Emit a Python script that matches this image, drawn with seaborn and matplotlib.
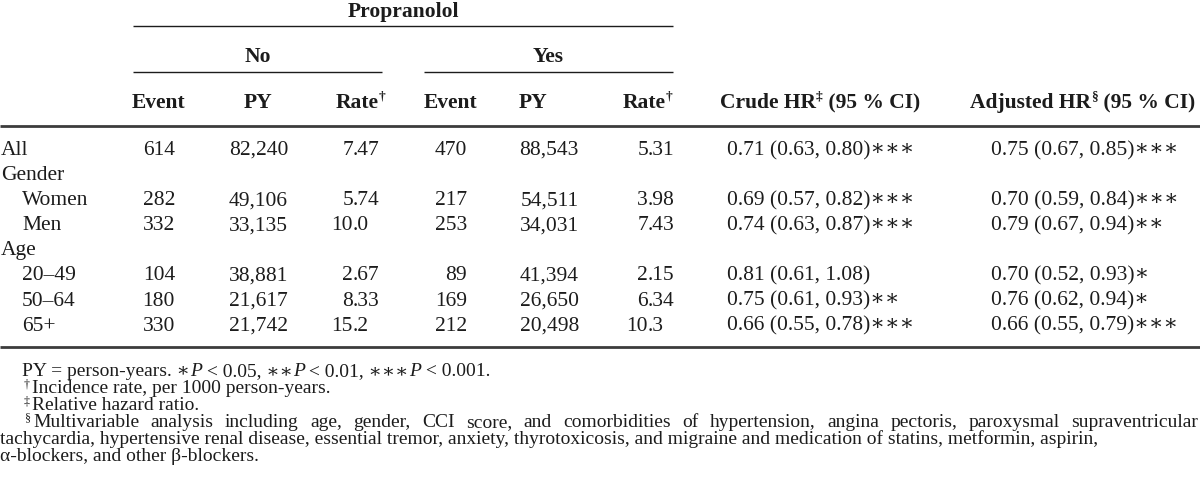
import matplotlib
matplotlib.use("Agg")
import matplotlib.pyplot as plt
import seaborn as sns

sns.set_theme(style="white")
plt.rcParams['font.family'] = ['Liberation Serif', 'DejaVu Serif']

# ---------------- data ----------------
row_labels = ["All", "Gender", "Women", "Men", "Age", "20–49", "50–64", "65+"]
row_indent = [0, 0, 1, 1, 0, 1, 1, 1]
no_event = [614, None, 282, 332, None, 104, 180, 330]
no_py = [82240, None, 49106, 33135, None, 38881, 21617, 21742]
no_rate = [7.47, None, 5.74, 10.0, None, 2.67, 8.33, 15.2]
yes_event = [470, None, 217, 253, None, 89, 169, 212]
yes_py = [88543, None, 54511, 34031, None, 41394, 26650, 20498]
yes_rate = [5.31, None, 3.98, 7.43, None, 2.15, 6.34, 10.3]
crude_hr = [0.71, None, 0.69, 0.74, None, 0.81, 0.75, 0.66]
crude_lo = [0.63, None, 0.57, 0.63, None, 0.61, 0.61, 0.55]
crude_hi = [0.80, None, 0.82, 0.87, None, 1.08, 0.93, 0.78]
crude_sig = [3, 0, 3, 3, 0, 0, 2, 3]
adj_hr = [0.75, None, 0.70, 0.79, None, 0.70, 0.76, 0.66]
adj_lo = [0.67, None, 0.59, 0.67, None, 0.52, 0.62, 0.55]
adj_hi = [0.85, None, 0.84, 0.94, None, 0.93, 0.94, 0.79]
adj_sig = [3, 0, 3, 2, 0, 1, 1, 3]

group_title = "Propranolol"
group_labels = ["No", "Yes"]
sub_cols = ["Event", "PY", "Rate"]
hr_headers = [("Crude HR", "‡"), ("Adjusted HR", "§")]

fn_py = [("PY = person-years. ∗", "n"), ("P", "i"), (" < 0.05, ∗∗", "n"), ("P", "i"),
         (" < 0.01, ∗∗∗", "n"), ("P", "i"), (" < 0.001.", "n")]
fn_rate = ("†", "Incidence rate, per 1000 person-years.")
fn_hr = ("‡", "Relative hazard ratio.")
fn_adj = ("§", "Multivariable analysis including age, gender, CCI score, and comorbidities of "
               "hypertension, angina pectoris, paroxysmal supraventricular")
fn_adj2 = "tachycardia, hypertensive renal disease, essential tremor, anxiety, thyrotoxicosis, and migraine and medication of statins, metformin, aspirin,"
fn_adj3 = "α-blockers, and other β-blockers."

# ---------------- layout ----------------
TXT = "#1c1c1c"
RULE = "#3c3c3c"
FS = 15.5
FF = 14.0

fig = plt.figure(figsize=(12, 4.92), dpi=100)
ax = fig.add_axes([0, 0, 1, 1])
ax.set_xlim(0, 1200)
ax.set_ylim(492, 0)
ax.axis("off")
sns.despine(ax=ax, left=True, bottom=True)
renderer = fig.canvas.get_renderer()


def measure(s, **kw):
    t = ax.text(0, 0, s + "|", **kw)
    w1 = t.get_window_extent(renderer).width
    t.set_text("|")
    w2 = t.get_window_extent(renderer).width
    t.remove()
    return w1 - w2


def style_kw(kind, size):
    kw = dict(fontsize=size, color=TXT)
    if "b" in kind:
        kw["fontweight"] = "bold"
    if "i" in kind:
        kw["fontstyle"] = "italic"
    return kw


def runs(x, y, parts, size, ha="left", sup_gap=0.0, sup_raise=0.40):
    items = []
    for s, kind in parts:
        sz = size * 0.62 if "s" in kind else size
        kw = style_kw(kind, sz)
        w = measure(s, **kw) + (sup_gap if "s" in kind else 0.0)
        items.append((s, kind, kw, w))
    total = sum(i[3] for i in items)
    if ha == "center":
        x -= total / 2
    elif ha == "right":
        x -= total
    for s, kind, kw, w in items:
        yy = y - size * 1.389 * sup_raise if "s" in kind else y
        ax.text(x, yy, s, ha="left", va="baseline", **kw)
        x += w


# header
runs(403, 17, [(group_title, "b")], FS, ha="center")
ax.hlines(25.5, 133, 673, color=TXT, lw=1.0)
grp_x = [(133, 382), (424, 673)]
for (x0, x1), lab in zip(grp_x, group_labels):
    runs((x0 + x1) / 2, 62, [(lab, "b")], FS, ha="center")
    ax.hlines(72, x0, x1, color=TXT, lw=1.0)

sub_pos = [[158, 258, 385], [451, 533, 672]]
for g in range(2):
    runs(sub_pos[g][0], 108, [(sub_cols[0], "b")], FS, ha="center")
    runs(sub_pos[g][1], 108, [(sub_cols[1], "b")], FS, ha="center")
    runs(sub_pos[g][2], 108, [(sub_cols[2], "b"), ("†", "bs")], FS, ha="right")
hr_centers = [820, 1083]
for cx, (h, mark) in zip(hr_centers, hr_headers):
    runs(cx, 108, [(h, "b"), (mark, "bs"), (" (95 % CI)", "b")], FS, ha="center")

ax.hlines(126, 0, 1200, color=RULE, lw=2.0)

# body
y0, dy = 155, 25.1
kw = style_kw("n", FS)


def dec_align(xd, y, v):
    s = f"{v:#.3g}"
    ip, fp = s.split(".")
    ax.text(xd, y, ip, ha="right", va="baseline", **kw)
    ax.text(xd, y, "." + fp, ha="left", va="baseline", **kw)


for i, lab in enumerate(row_labels):
    y = y0 + i * dy
    ax.text(22 if row_indent[i] else 1, y, lab, ha="left", va="baseline", **kw)
    if no_event[i] is None:
        continue
    ax.text(175, y, f"{no_event[i]}", ha="right", va="baseline", **kw)
    ax.text(288, y, f"{no_py[i]:,}", ha="right", va="baseline", **kw)
    dec_align(353, y, no_rate[i])
    ax.text(467, y, f"{yes_event[i]}", ha="right", va="baseline", **kw)
    ax.text(579, y, f"{yes_py[i]:,}", ha="right", va="baseline", **kw)
    dec_align(648, y, yes_rate[i])
    ax.text(727, y, f"{crude_hr[i]:.2f} ({crude_lo[i]:.2f}, {crude_hi[i]:.2f})" + "∗" * crude_sig[i],
            ha="left", va="baseline", **kw)
    ax.text(991, y, f"{adj_hr[i]:.2f} ({adj_lo[i]:.2f}, {adj_hi[i]:.2f})" + "∗" * adj_sig[i],
            ha="left", va="baseline", **kw)

ax.hlines(347, 0, 1200, color=RULE, lw=2.0)

# footnotes
fy0, fdy = 376, 17.0
runs(22, fy0, fn_py, FF)
runs(24, fy0 + fdy, [(fn_rate[0], "s"), (fn_rate[1], "n")], FF, sup_gap=2.5, sup_raise=0.30)
runs(24, fy0 + 2 * fdy, [(fn_hr[0], "s"), (fn_hr[1], "n")], FF, sup_gap=2.5, sup_raise=0.30)
# justified line
runs(25, fy0 + 3 * fdy, [(fn_adj[0], "s")], FF, sup_raise=0.30)
words = fn_adj[1].split()
fkw = style_kw("n", FF)
ws = [measure(w, **fkw) for w in words]
xs, xe = 33, 1198
gap = (xe - xs - sum(ws)) / (len(words) - 1)
x = xs
for w, wd in zip(words, ws):
    ax.text(x, fy0 + 3 * fdy, w, ha="left", va="baseline", **fkw)
    x += wd + gap
ax.text(0, fy0 + 4 * fdy, fn_adj2, ha="left", va="baseline", **fkw)
ax.text(0, fy0 + 5 * fdy, fn_adj3, ha="left", va="baseline", **fkw)

fig.savefig("out.png", dpi=100, facecolor="white")
